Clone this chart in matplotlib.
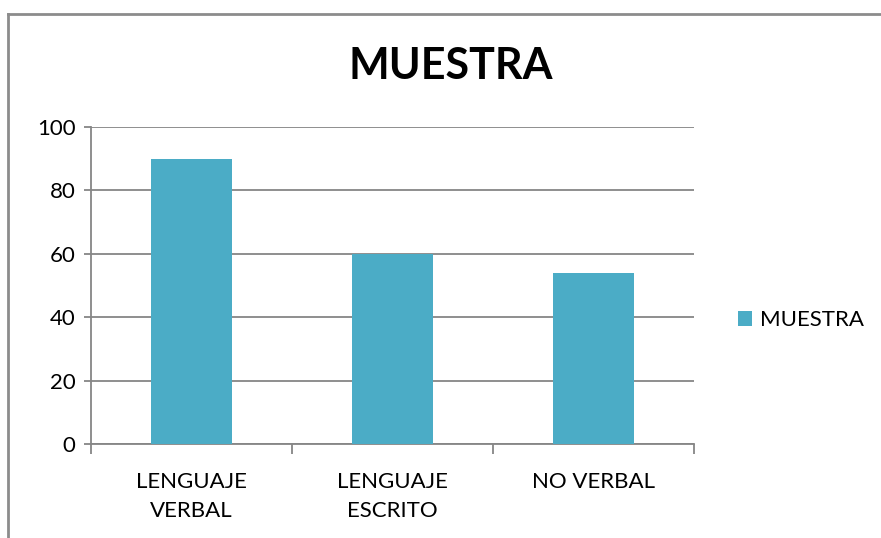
import matplotlib
matplotlib.use('Agg')
import matplotlib.pyplot as plt
from matplotlib.lines import Line2D

# Дані діаграми
categories = ['LENGUAJE\nVERBAL', 'LENGUAJE\nESCRITO', 'NO VERBAL']
values = [90, 60, 54]
series_name = 'MUESTRA'
y_ticks = [0, 20, 40, 60, 80, 100]

plt.rcParams['font.family'] = ['Lato', 'DejaVu Sans']

W, H = 881, 538
fig = plt.figure(figsize=(W / 100, H / 100), dpi=100)
ax = fig.add_axes([91 / W, 1 - 444 / H, (694 - 91) / W, (444 - 127) / H])

bar_color = '#4BACC6'
grid_color = '#868686'

x = range(len(categories))
ax.bar(x, values, width=0.4, color=bar_color, label=series_name, zorder=3)

ax.set_xlim(-0.5, len(categories) - 0.5)
ax.set_ylim(0, 100)
ax.set_yticks(y_ticks)
ax.set_yticklabels([str(v) for v in y_ticks], fontsize=16)
ax.yaxis.grid(True, color=grid_color, linewidth=1.3, zorder=0)

# Підписи категорій та поділки між категоріями
ax.set_xticks(list(x))
ax.set_xticklabels(categories, fontsize=16, linespacing=1.6)
ax.tick_params(axis='x', length=0, pad=20)
ax.set_xticks([i - 0.5 for i in range(len(categories) + 1)], minor=True)
ax.tick_params(axis='x', which='minor', length=7, width=1.3, color=grid_color, direction='out')
ax.tick_params(axis='y', length=5, width=1.3, color=grid_color, direction='out', pad=6)

for side in ['top', 'right']:
    ax.spines[side].set_visible(False)
for side in ['left', 'bottom']:
    ax.spines[side].set_color(grid_color)
    ax.spines[side].set_linewidth(1.3)

fig.text(451 / W, 1 - 66 / H, 'MUESTRA', fontsize=31, fontweight='bold',
         ha='center', va='center')

ax.legend(loc='center left', bbox_to_anchor=(718 / W, 1 - 320 / H),
          bbox_transform=fig.transFigure, frameon=False, fontsize=16,
          handlelength=0.65, handleheight=0.65, handletextpad=0.35)

# Рамка діаграми
fig.add_artist(Line2D([8 / W, 8 / W], [0, 1 - 14 / H], transform=fig.transFigure,
                      color='#8c8c8c', linewidth=2))
fig.add_artist(Line2D([8 / W, 1], [1 - 14 / H, 1 - 14 / H], transform=fig.transFigure,
                      color='#8c8c8c', linewidth=2))

fig.savefig('out.png', dpi=100, facecolor='white')
